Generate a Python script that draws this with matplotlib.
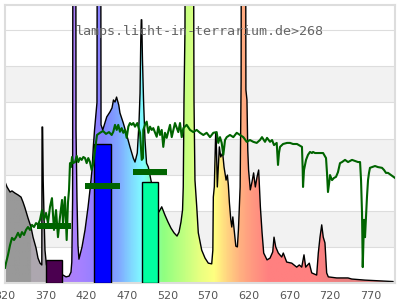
import matplotlib
matplotlib.use('Agg')
import matplotlib.pyplot as plt
import numpy as np
from matplotlib.colors import LinearSegmentedColormap
from matplotlib.patches import Polygon

title = "lamps.licht-in-terrarium.de>268"
xticks = [320, 370, 420, 470, 520, 570, 620, 670, 720, 770]

# lamp spectrum (wavelength nm, relative value; off-chart spikes given as 20)
spec_wl = [320, 322.5, 326.2, 328.6, 332.3, 336, 339.7, 342.2, 344.6, 348.3,
           352, 354.5, 358.2, 360.6, 363.1, 365.3, 365.6, 366.3, 367, 368,
           369.2, 371, 375.4, 387.7, 391.4, 395.1, 398.8, 401.2, 402.2, 403.2,
           404, 406.8, 407.4, 408.6, 409.8, 411, 414.8, 418.5, 422.2, 424.6,
           427.1, 428.7, 430.2, 433.2, 434.2, 437.3, 438.2, 440.3, 445.2, 449.2,
           451.7, 453.5, 455.4, 457.3, 460, 461.5, 465.6, 469.8, 473.8, 477.9,
           480, 482.8, 484.9, 486.2, 487.1, 487.7, 488.3, 489.2, 490.5, 492.3,
           494.2, 496.4, 500.9, 505.8, 509.5, 512.9, 516.9, 520.6, 524.3, 528,
           531.7, 534.2, 536.6, 538.5, 539.4, 540.3, 541.5, 542.8, 550.8, 552.6,
           553.8, 556, 557.9, 562.1, 566.2, 570.2, 574.4, 575.8, 576.4, 577.6,
           579.3, 580.3, 581.3, 583.8, 585.5, 587.9, 589.6, 592.1, 593.7, 594.9,
           596.2, 597.9, 599.1, 600.4, 602, 604.1, 606, 607.3, 609.4, 610.6,
           611.3, 615.6, 616.5, 617.8, 618.8, 619.8, 621.9, 624, 626, 628.1,
           630.2, 632.2, 634.3, 636.4, 638.4, 642.5, 646.2, 649.5, 651.1, 653.2,
           656.4, 660.6, 662.5, 666.7, 672.9, 679, 682.2, 685.2, 688, 690.1,
           694.5, 697.5, 703.6, 705.6, 707.7, 709.8, 711.7, 713.8, 715.9, 717.9,
           728.2, 742.2, 746.7, 763, 781.5, 797.5]
spec_val = [2.80, 2.66, 2.52, 2.55, 2.49, 2.44, 2.38, 2.24, 2.08, 1.80,
            1.55, 1.27, 0.97, 0.69, 0.55, 0.50, 4.32, 4.32, 2.85, 1.88,
            0.91, 0.50, 0.30, 0.19, 0.22, 0.17, 0.19, 0.30, 0.58, 2.30,
            20, 20, 4.24, 2.30, 1.05, 0.66, 1.00, 1.47, 2.10, 2.58,
            3.13, 3.77, 4.24, 5.00, 20, 20, 4.38, 4.24, 4.60, 4.74,
            4.85, 5.07, 5.01, 5.15, 4.93, 4.71, 4.43, 4.10, 3.77, 3.46,
            3.35, 3.60, 4.43, 5.26, 6.73, 7.29, 7.29, 6.18, 5.07, 3.96,
            3.32, 3.21, 2.71, 2.16, 1.97, 2.11, 1.88, 1.69, 1.52, 1.39,
            1.30, 1.41, 1.69, 2.02, 2.66, 5.07, 7.00, 20, 20, 5.07,
            2.85, 2.11, 1.39, 0.91, 0.69, 0.55, 0.53, 0.91, 2.38, 2.66,
            4.16, 3.68, 2.66, 3.77, 3.49, 3.60, 3.21, 2.85, 2.99, 2.71,
            2.22, 1.75, 1.55, 1.83, 1.47, 1.02, 1.00, 1.47, 2.66, 5.60,
            20, 20, 5.35, 5.07, 3.68, 3.13, 2.58, 2.80, 3.05, 2.66,
            2.94, 3.13, 2.11, 1.39, 0.83, 0.64, 0.69, 0.86, 1.27, 1.00,
            0.83, 0.72, 0.83, 0.58, 0.55, 0.44, 0.50, 0.44, 0.78, 0.44,
            0.55, 0.28, 0.22, 0.83, 1.27, 1.61, 1.27, 1.11, 0.28, 0.17,
            0.14, 0.14, 0.11, 0.08, 0.06, 0.04]

# reference (daylight) curve
day_wl = [320, 321.2, 323.7, 326.2, 328.6, 331.1, 333.5, 336, 338.5, 340.9,
          343.4, 345.8, 348.3, 350.8, 353.2, 355.7, 358.2, 360.6, 363.1, 365.5,
          368, 370.5, 372.9, 375.4, 377.8, 380.3, 382.8, 385.2, 387.7, 390.2,
          391.4, 393.8, 395.9, 397.5, 398.8, 400, 401.2, 402.5, 403.7, 406.2,
          408.2, 410.2, 412.3, 414.4, 416.4, 418.5, 420.5, 422.5, 424.6, 426.7,
          428.3, 430.8, 433.2, 436.9, 440.6, 444.3, 448, 451.3, 453.3, 455.4,
          457.5, 459.4, 461.5, 463.6, 465.6, 467.7, 469.8, 471.8, 473.8, 475.9,
          477.9, 480, 482.8, 486.2, 488.3, 489.8, 490.2, 492.3, 494.4, 496.4,
          498.5, 500.6, 502.5, 506.7, 508.7, 510.8, 512.9, 514.8, 516.9, 519,
          523.1, 525.2, 529.2, 533.3, 535.4, 537.5, 539.5, 543.6, 547.7, 551.8,
          555.9, 560, 564.1, 568.2, 572.3, 576.4, 580.5, 582.5, 584.6, 586.7,
          588.7, 590.8, 592.9, 596.9, 601, 605.2, 609.2, 613.3, 617.5, 621.5,
          625.6, 629.8, 633.8, 636.3, 640, 642.5, 646.2, 648.7, 651.1, 654.4,
          655.2, 656, 657.2, 658.5, 662.2, 667.1, 670.8, 674.5, 679.4, 683.1,
          685.5, 686.4, 686.8, 688, 690.5, 692.9, 695.4, 697.8, 699.1, 701.5,
          704, 707.7, 711.5, 715.1, 716.3, 717.5, 719.4, 720, 722.5, 724.9,
          727.4, 729.8, 732.3, 734.8, 738.5, 742.2, 747.1, 750.8, 754.5, 757,
          758.2, 759.4, 760.3, 761, 761.9, 763.1, 764.3, 765.5, 766.8, 768,
          769.2, 771.7, 775.4, 779.1, 784, 786.5, 788.9, 791.4, 795.1, 800]
day_val = [0.42, 0.55, 0.78, 1.05, 1.25, 1.19, 1.27, 1.39, 1.27, 1.41,
           1.33, 1.47, 1.55, 1.47, 1.61, 1.55, 1.66, 1.61, 1.75, 2.02,
           1.75, 1.94, 1.66, 2.11, 2.35, 1.47, 2.02, 1.27, 1.83, 2.30,
           1.66, 2.38, 1.19, 2.22, 2.58, 3.32, 3.21, 3.49, 3.32, 3.35,
           3.52, 3.35, 3.46, 3.41, 3.49, 3.46, 3.32, 3.46, 3.35, 3.13,
           3.27, 3.68, 4.10, 4.16, 4.21, 4.13, 4.18, 4.10, 4.19, 4.38,
           4.24, 4.38, 4.19, 4.29, 4.16, 4.24, 4.02, 4.33, 4.43, 4.38,
           4.43, 4.33, 4.43, 4.16, 3.41, 3.46, 4.24, 4.38, 4.47, 4.16,
           4.33, 4.24, 4.29, 4.05, 4.33, 4.10, 4.24, 3.77, 4.16, 4.02,
           4.38, 4.04, 4.43, 4.18, 4.43, 4.04, 4.29, 4.38, 4.24, 4.18,
           4.24, 4.16, 4.10, 4.16, 4.04, 4.16, 4.18, 3.88, 4.04, 3.88,
           3.55, 3.96, 4.04, 4.10, 4.04, 4.16, 4.10, 4.04, 3.91, 3.96,
           3.91, 3.88, 3.96, 4.04, 3.91, 4.02, 3.91, 3.96, 3.82, 3.88,
           3.55, 3.27, 3.60, 3.77, 3.85, 3.88, 3.88, 3.85, 3.85, 3.80,
           3.77, 3.13, 2.66, 3.13, 3.41, 3.55, 3.63, 3.60, 3.63, 3.60,
           3.60, 3.60, 3.60, 3.46, 3.05, 2.52, 2.85, 2.99, 2.85, 2.91,
           2.94, 3.07, 3.32, 3.35, 3.41, 3.35, 3.41, 3.38, 3.35, 3.35,
           2.85, 1.94, 0.44, 1.00, 1.75, 1.27, 1.83, 2.38, 2.85, 3.05,
           3.19, 3.21, 3.24, 3.21, 3.19, 3.13, 3.05, 3.05, 2.99, 2.91]

bar_centers = [380, 440, 498]
bar_heights = [0.64, 3.84, 2.81]
bar_colors = ['#4b0050', '#0000ff', '#00ffa0']
marker_heights = [1.57, 2.68, 3.07]

# pastel spectrum colour anchors (wavelength, colour)
grad_wl = [320, 351.9, 352, 372, 390, 410, 425, 440, 460, 475, 490, 500,
           515, 540, 560, 578, 592, 610, 625, 645, 700, 740, 800]
grad_col = ['#999999', '#999999', '#ada7af', '#ada7af', '#b080f0', '#a880ff',
            '#9a80ff', '#8080ff', '#80a8ff', '#80d8ff', '#80ffff', '#80ffb0',
            '#90ff80', '#c0ff80', '#e8ff80', '#ffff80', '#ffd880', '#ffb080',
            '#ff9880', '#ff8080', '#ff8080', '#e88080', '#d88080']

XMIN, XMAX, YMAX = 320, 800, 7.7

fig = plt.figure(figsize=(4, 3), dpi=100)
ax = fig.add_axes([5 / 400, 17 / 300, 390 / 400, 278 / 300])
ax.set_xlim(XMIN, XMAX)
ax.set_ylim(0, YMAX)

for k in (1, 3, 5):
    ax.axhspan(k, k + 1, color='#f2f2f2', lw=0, zorder=0)
for k in range(1, 8):
    ax.axhline(k, color='#dddddd', lw=0.8, zorder=0.5)

pos = [(w - XMIN) / (XMAX - XMIN) for w in grad_wl]
cmap = LinearSegmentedColormap.from_list('spec', list(zip(pos, grad_col)))
grid = np.linspace(0, 1, 960)
img = cmap(grid)[None, :, :]
im = ax.imshow(img, extent=[XMIN, XMAX, 0, YMAX], aspect='auto',
               origin='lower', zorder=1, interpolation='bilinear')
verts = [(spec_wl[0], 0)] + list(zip(spec_wl, spec_val)) + [(spec_wl[-1], 0)]
poly = Polygon(verts, closed=True, fc='none', ec='none', transform=ax.transData)
ax.add_patch(poly)
im.set_clip_path(poly)
ax.plot(spec_wl, spec_val, color='black', lw=1.0, zorder=2)

ax.bar(bar_centers, bar_heights, width=20, color=bar_colors,
       edgecolor='black', lw=1.0, zorder=3)
ax.plot(day_wl, day_val, color='#006400', lw=1.5, zorder=4)
ax.bar(bar_centers, 0.17, bottom=np.array(marker_heights) - 0.085, width=42,
       color='#006400', lw=0, zorder=5)

for s in ax.spines.values():
    s.set_color('#dddddd')
    s.set_linewidth(1.5)
ax.set_xticks(xticks)
ax.set_yticks([])
ax.tick_params(axis='x', length=0, labelsize=8, labelcolor='#555555', pad=6)

fig.text(0.5, 1 - 32 / 300, title, family='DejaVu Sans Mono', fontsize=9.6,
         color='#666666', ha='center', va='center')

fig.savefig('out.png', dpi=100)
